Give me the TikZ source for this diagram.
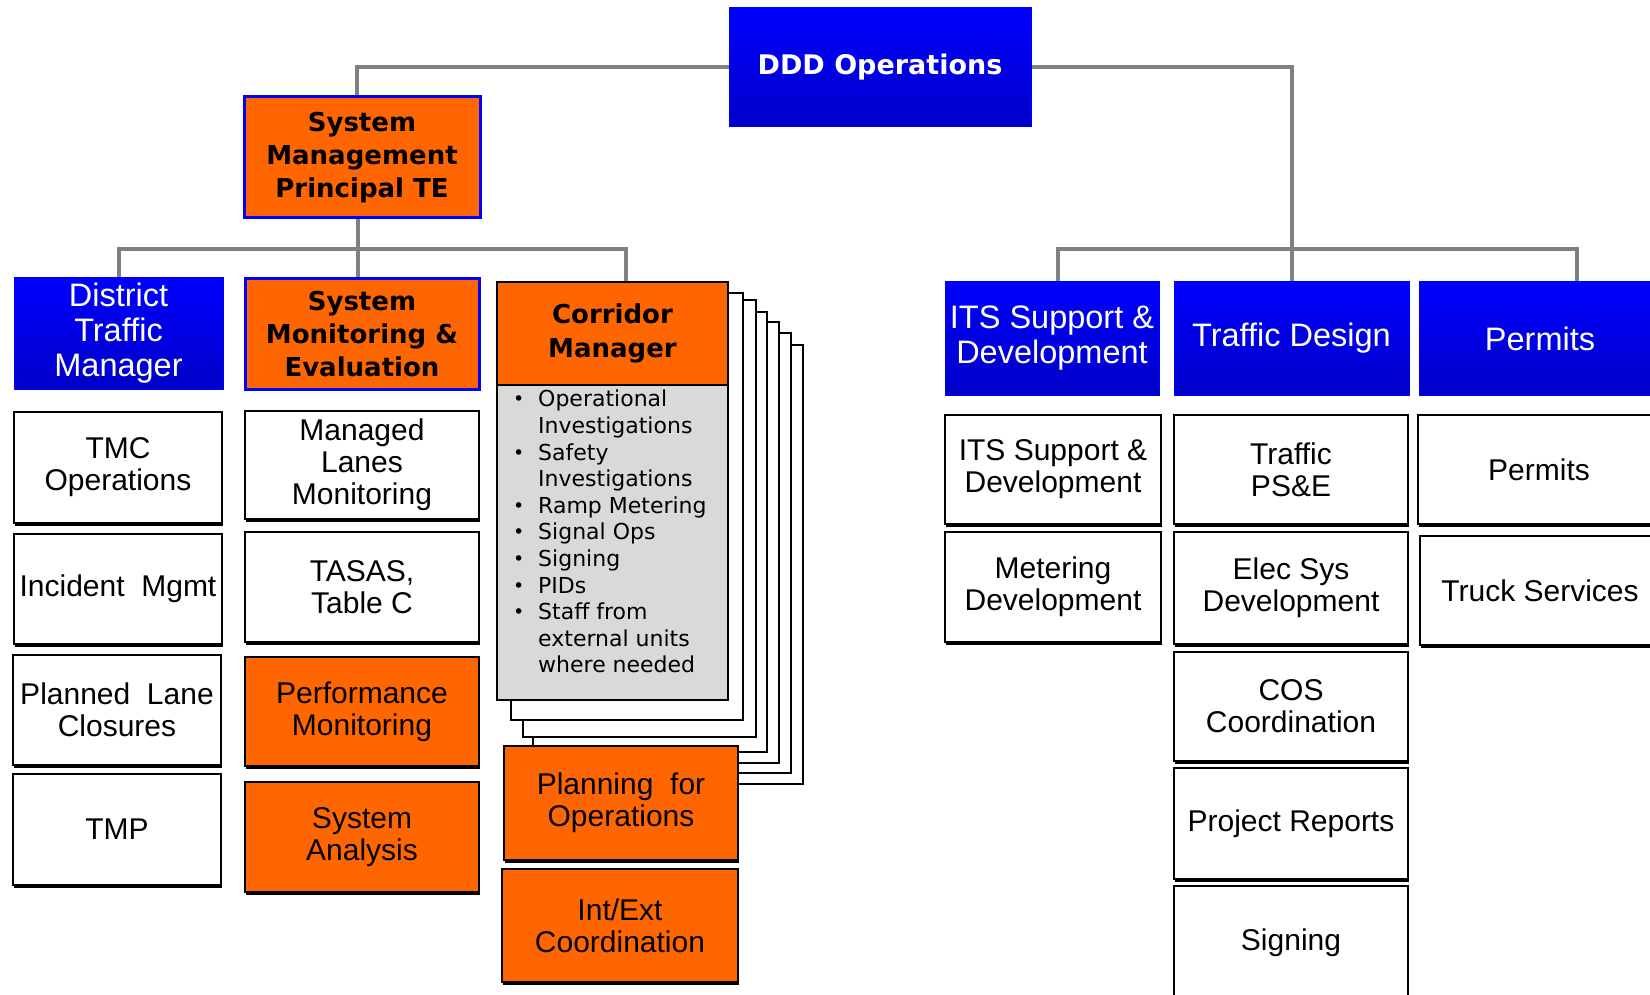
\documentclass[tikz,border=0pt]{standalone}
\usepackage{fontspec}
\setmainfont{Liberation Sans}
\newfontfamily\dvs{DejaVu Sans}
\usetikzlibrary{shadows}
\definecolor{orng}{RGB}{255,102,0}
\definecolor{mblue}{RGB}{0,0,255}
\definecolor{dblue}{RGB}{0,0,200}
\definecolor{conn}{RGB}{128,128,128}
\definecolor{lgray}{RGB}{217,217,217}
\newcommand{\cmbul}{\makebox[29pt][l]{\hspace{4pt}\raisebox{1pt}{\fontsize{19}{19}\selectfont •}}}
\newcommand{\cmind}{\hspace{29pt}}
\tikzset{
  base/.style={rectangle, inner sep=2pt, align=center, text=black},
  bluehd/.style={base, draw=mblue, line width=1pt, top color=mblue, middle color=mblue, bottom color=dblue, text=white, font=\fontsize{32.5}{35}\selectfont},
  ddd/.style={bluehd, font=\dvs\bfseries\fontsize{27}{32}\selectfont},
  orghd/.style={base, fill=orng, draw=mblue, line width=3pt, font=\dvs\bfseries\fontsize{26}{33}\selectfont},
  wbox/.style={base, fill=white, draw=black, line width=2.5pt, font=\fontsize{30}{32}\selectfont,
    drop shadow={shadow xshift=1pt, shadow yshift=-2.5pt, fill=black, opacity=1}},
  obox/.style={wbox, fill=orng},
  cmhead/.style={base, fill=orng, draw=black, line width=2.5pt, font=\dvs\bfseries\fontsize{26}{33.5}\selectfont},
  cmbody/.style={base, fill=lgray, draw=black, line width=2.5pt},
  page/.style={fill=white, draw=black, line width=2.5pt},
  link/.style={draw=conn, line width=4pt}
}
\begin{document}
\begin{tikzpicture}[x=1pt,y=-1pt]
\useasboundingbox (0,0) rectangle (1650,995);
\fill[white] (0,0) rectangle (1650,995);

% top
\node[ddd, minimum width=302, minimum height=119] (ddd) at (880,67.5) {DDD Operations};
\node[orghd, minimum width=236, minimum height=121] (sm) at (362,157.5) {System\\Management\\Principal TE};

% left headers
\node[bluehd, minimum width=209, minimum height=111] (dtm) at (118.5,333.5) {District\\Traffic\\Manager};
\node[orghd, minimum width=234, minimum height=110] (sme) at (362,334) {System\\Monitoring \&\\Evaluation};

% corridor stack pages
\draw[page] (563,345) rectangle (803,784);
\draw[page] (553,333) rectangle (791,773);
\draw[page] (543,322) rectangle (779,763);
\draw[page] (533,312) rectangle (767,752);
\draw[page] (523,300) rectangle (756,737);
\draw[page] (511,293) rectangle (743,720);

\node[cmhead, minimum width=231, minimum height=103] (cm) at (612.5,333.5) {Corridor\\Manager};
\node[cmbody, minimum width=231, minimum height=315] (cmb) at (612.5,542.5) {};
\node[anchor=north west, inner sep=0pt, align=left, font=\dvs\fontsize{22}{26.6}\selectfont] (cml) at (509,390)
 {\cmbul Operational\\ \cmind Investigations\\ \cmbul Safety\\ \cmind Investigations\\ \cmbul Ramp Metering\\ \cmbul Signal Ops\\ \cmbul Signing\\ \cmbul PIDs\\ \cmbul Staff from\\ \cmind external units\\ \cmind where needed};

\node[obox, minimum width=234, minimum height=114] (pfo) at (621,803) {Planning\ \ for\\Operations};
\node[obox, minimum width=236, minimum height=113] (iec) at (620,925.5) {Int/Ext\\Coordination};

% left column
\node[wbox, minimum width=208, minimum height=111] (tmc) at (118,467.5) {TMC\\Operations};
\node[wbox, minimum width=208, minimum height=110] (inc) at (118,589) {Incident\ \ Mgmt};
\node[wbox, minimum width=208, minimum height=110] (plc) at (117,710) {Planned\ \ Lane\\Closures};
\node[wbox, minimum width=208, minimum height=111] (tmp) at (117,829.5) {TMP};

% second column
\node[wbox, minimum width=234, minimum height=108] (mlm) at (362,465) {Managed\\Lanes\\Monitoring};
\node[wbox, minimum width=234, minimum height=110] (tas) at (362,587) {TASAS,\\Table C};
\node[obox, minimum width=234, minimum height=109] (pm) at (362,711.5) {Performance\\Monitoring};
\node[obox, minimum width=234, minimum height=110] (sa) at (362,837) {System\\Analysis};

% right headers
\node[bluehd, minimum width=214, minimum height=113] (its) at (1052,338.5) {ITS Support \&\\Development};
\node[bluehd, minimum width=235, minimum height=113] (td) at (1291.5,338.5) {Traffic Design};
\node[bluehd, minimum width=242, minimum height=113] (per) at (1540,338.5) {Permits};

% right boxes
\node[wbox, minimum width=216, minimum height=109] (itsw) at (1053,469.5) {ITS Support \&\\Development};
\node[wbox, minimum width=216, minimum height=110] (met) at (1053,587) {Metering\\Development};
\node[wbox, minimum width=234, minimum height=109] (pse) at (1291,469.5) {Traffic\\PS\&E};
\node[wbox, minimum width=234, minimum height=112] (esd) at (1291,588) {Elec Sys\\Development};
\node[wbox, minimum width=234, minimum height=109] (cos) at (1291,706.5) {COS\\Coordination};
\node[wbox, minimum width=234, minimum height=111] (prr) at (1291,823.5) {Project Reports};
\node[wbox, minimum width=234, minimum height=114] (sgn) at (1291,943) {Signing};
\node[wbox, minimum width=242, minimum height=109] (perw) at (1539,469.5) {Permits};
\node[wbox, minimum width=240, minimum height=109] (trk) at (1540,590.5) {Truck Services};

% connectors
\coordinate (lbar) at (358,249);
\coordinate (rbar) at (1292,249);
\draw[link] (ddd.west) -| ([xshift=-5pt]sm.north);
\draw[link] (ddd.east) -| (td.north);
\draw[link] ([xshift=-4pt]sm.south) -- (lbar);
\draw[link] (dtm.north) |- ([xshift=13.5pt]cm.north |- lbar) -- ([xshift=13.5pt]cm.north);
\draw[link] ([xshift=-4pt]sme.north) -- (lbar);
\draw[link] ([xshift=6pt]its.north) |- ([xshift=37pt]per.north |- rbar) -- ([xshift=37pt]per.north);
\end{tikzpicture}
\end{document}
